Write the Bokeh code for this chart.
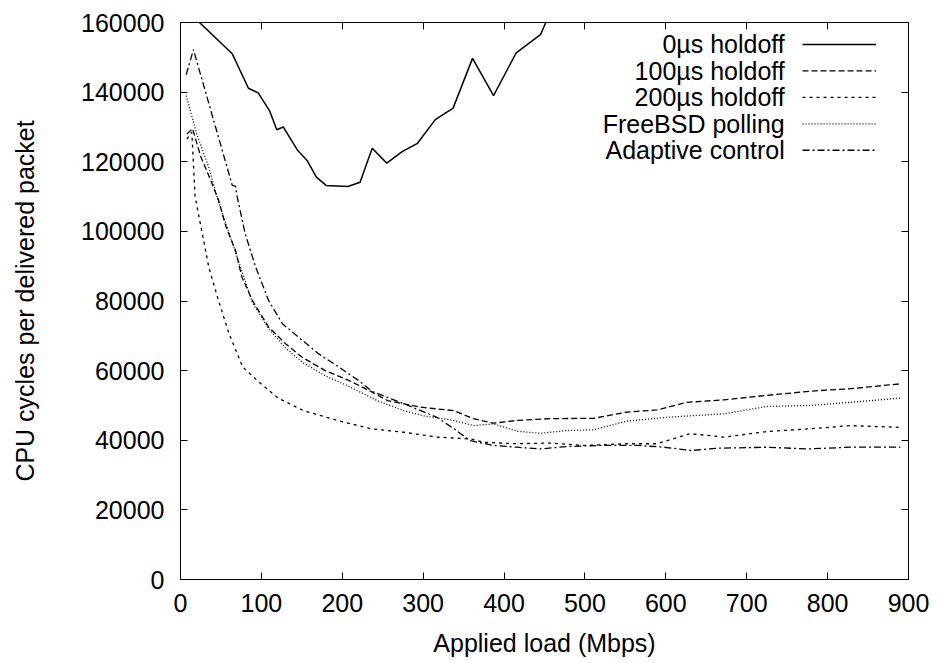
from bokeh.plotting import figure
from bokeh.models import LinearAxis, FixedTicker, BasicTickFormatter, Range1d, Label, CustomJSTickFormatter
from bokeh.embed import file_html
from bokeh.resources import INLINE

# ---- data ----
x_0us = [10, 64, 84, 96, 110, 119, 127, 145, 157, 168, 180, 207, 222, 237, 255, 274,
         293, 315, 337, 361, 387, 415, 445, 480]
y_0us = [163000, 151000, 141100, 139800, 134700, 129200, 130000, 123200, 120200, 115600,
         113200, 112900, 114100, 123900, 119600, 122900, 125300, 132100, 135400, 149700,
         139000, 151300, 156500, 175000]

x_100us = [8, 15, 25, 35, 47, 56, 68, 76, 89, 109, 130, 150, 179, 208, 233, 256, 297, 338,
           362, 387, 416, 457, 511, 552, 589, 626, 672, 725, 779, 828, 890]
y_100us = [128000, 129500, 121500, 116000, 109000, 101500, 94500, 86800, 80100, 72500, 67700,
           63900, 60000, 57200, 54300, 51400, 49500, 48500, 46200, 44900, 45700, 46200, 46300,
           48100, 48700, 50900, 51600, 52900, 54100, 54800, 56200]

x_200us = [8, 14, 18, 27, 35, 47, 60, 77, 97, 120, 152, 194, 235, 276, 317, 358, 375, 416,
           457, 499, 552, 589, 630, 672, 725, 779, 828, 890]
y_200us = [126500, 128500, 110000, 99300, 89700, 80100, 70600, 61000, 56700, 52200, 48500,
           45700, 43300, 42300, 40900, 40400, 39400, 39000, 39200, 38500, 39000, 39000, 41900,
           40900, 42500, 43300, 44200, 43700]

x_bsd = [7, 20, 35, 47, 68, 89, 109, 130, 150, 179, 208, 243, 276, 300, 338, 362, 387, 416,
         445, 478, 511, 552, 602, 672, 725, 779, 828, 890]
y_bsd = [139000, 128000, 118400, 108500, 94000, 79500, 72000, 66500, 62500, 58500, 55500,
         51400, 48500, 47000, 45700, 44200, 44700, 42600, 42000, 42800, 43000, 45500, 46600,
         47600, 49700, 50000, 50900, 52100]

x_adapt = [7, 16, 64, 68, 70, 80, 93, 109, 126, 146, 171, 196, 220, 237, 276, 317, 338, 358,
           387, 416, 445, 478, 519, 565, 598, 631, 663, 725, 775, 828, 890]
y_adapt = [145000, 152200, 113200, 113000, 110000, 99300, 89700, 80100, 73450, 69600, 64800,
           61000, 57200, 54000, 50500, 46600, 43300, 39900, 38500, 38000, 37500, 38200, 38500,
           38500, 38000, 37050, 37700, 38000, 37500, 38000, 38000]

series_names = ["0µs holdoff", "100µs holdoff", "200µs holdoff", "FreeBSD polling", "Adaptive control"]
x_ticks = [0, 100, 200, 300, 400, 500, 600, 700, 800, 900]
y_ticks = [0, 20000, 40000, 60000, 80000, 100000, 120000, 140000, 160000]

FONT = "Liberation Sans"
FS = "25px"

p = figure(width=931, height=660, output_backend="svg", toolbar_location=None,
           x_range=Range1d(0, 900), y_range=Range1d(0, 160000),
           min_border_left=180, min_border_right=23, min_border_top=22, min_border_bottom=81)
p.xgrid.visible = False
p.ygrid.visible = False
p.outline_line_color = "black"
p.outline_line_width = 1
p.background_fill_color = "white"
p.border_fill_color = "white"

def style_axis(ax, ticks, show_labels):
    ax.ticker = FixedTicker(ticks=ticks)
    ax.major_tick_in = 7
    ax.major_tick_out = 0
    ax.minor_tick_line_color = None
    ax.axis_line_color = "black"
    ax.major_tick_line_color = "black"
    ax.major_label_text_font = FONT
    ax.major_label_text_color = "black"
    ax.major_label_text_font_size = FS
    ax.axis_label_text_font = FONT
    ax.axis_label_text_font_size = FS
    ax.axis_label_text_font_style = "normal"
    ax.axis_label_text_color = "black"
    if show_labels:
        ax.formatter = BasicTickFormatter(use_scientific=False)
    else:
        ax.formatter = CustomJSTickFormatter(code="return '';")
        ax.major_label_standoff = 0

style_axis(p.xaxis[0], x_ticks, True)
style_axis(p.yaxis[0], y_ticks, True)
p.xaxis[0].axis_label = "Applied load (Mbps)"
p.yaxis[0].axis_label = "CPU cycles per delivered packet"
p.xaxis[0].major_label_standoff = 14
p.xaxis[0].axis_label_standoff = 14
p.yaxis[0].major_label_standoff = 16
p.yaxis[0].axis_label_standoff = 39

top_ax = LinearAxis()
right_ax = LinearAxis()
style_axis(top_ax, x_ticks, False)
style_axis(right_ax, y_ticks, False)
p.add_layout(top_ax, "above")
p.add_layout(right_ax, "right")

styles = [
    (x_0us, y_0us, "solid", 1.5),
    (x_100us, y_100us, "6 3", 1.3),
    (x_200us, y_200us, "3 4", 1.3),
    (x_bsd, y_bsd, "1 2", 1.3),
    (x_adapt, y_adapt, "7 3 2 3", 1.3),
]
for (xs, ys, dash, lw) in styles:
    p.line(xs, ys, line_color="black", line_width=lw, line_dash=dash)

# legend (label right-aligned, sample line to the right)
leg_text_x = 747
leg_line_x = [769, 860]
leg_y = [153700, 146100, 138500, 130900, 123300]
for name, (xs, ys, dash, lw), ly in zip(series_names, styles, leg_y):
    p.add_layout(Label(x=leg_text_x, y=ly, text=name, text_align="right",
                       text_baseline="middle", text_font=FONT, text_font_size=FS,
                       text_color="black"))
    p.line(leg_line_x, [ly, ly], line_color="black", line_width=lw, line_dash=dash)

open("out.html", "w").write(file_html(p, INLINE))
